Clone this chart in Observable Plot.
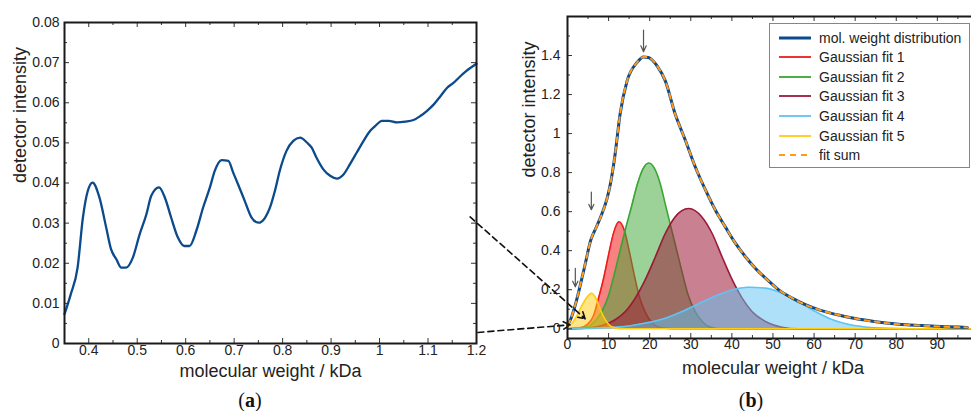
<!DOCTYPE html>
<html>
<head>
<meta charset="utf-8">
<script src="https://cdn.jsdelivr.net/npm/d3@7"></script>
<script src="https://cdn.jsdelivr.net/npm/@observablehq/plot@0.6"></script>
<style>
html,body{margin:0;padding:0;background:#fff;overflow:hidden;}
#wrap{position:relative;width:971px;height:411px;overflow:hidden;font-family:"Liberation Sans",Arial,Helvetica,sans-serif;color:#222;}
#pa,#pb{position:absolute;top:0;}
#pa{left:0;width:480px;}
#pb{left:460px;width:520px;}
.cap{position:absolute;top:389px;transform:translateX(-50%);font-family:"Liberation Serif","Times New Roman",serif;font-size:20px;line-height:22px;color:#111;}
#legend{position:absolute;left:769px;top:23px;width:201px;height:145px;box-sizing:border-box;border:1.5px solid #858585;background:#fff;}
.row{position:absolute;left:0;height:20px;display:flex;align-items:center;font-size:14px;white-space:nowrap;color:#222;}
.row svg{margin-left:9px;margin-right:8px;}
</style>
</head>
<body>
<div id="wrap">
  <div id="pa"></div>
  <div id="pb"></div>
  <div id="legend"></div>
  <div class="cap" style="left:250px">(<b>a</b>)</div>
  <div class="cap" style="left:751px">(<b>b</b>)</div>
</div>
<script>
// ---------- Panel (a): low molecular weight region ----------
const aMw = [0.350,0.363,0.377,0.388,0.398,0.408,0.422,0.436,0.446,0.457,0.467,0.477,0.491,0.505,0.519,0.529,0.545,0.557,0.570,0.584,0.597,0.608,0.622,0.636,0.650,0.660,0.674,0.688,0.698,0.708,0.722,0.736,0.750,0.764,0.774,0.784,0.794,0.808,0.822,0.836,0.850,0.860,0.870,0.884,0.898,0.912,0.926,0.939,0.953,0.967,0.978,0.991,1.005,1.019,1.036,1.053,1.070,1.084,1.098,1.112,1.126,1.140,1.153,1.164,1.178,1.200];
const aIntensity = [0.0073,0.0123,0.0189,0.0314,0.0380,0.0401,0.0364,0.0289,0.0235,0.0210,0.0189,0.0189,0.0214,0.0272,0.0322,0.0368,0.0389,0.0364,0.0314,0.0264,0.0243,0.0243,0.0281,0.0339,0.0389,0.0430,0.0457,0.0455,0.0426,0.0397,0.0355,0.0314,0.0301,0.0314,0.0339,0.0380,0.0430,0.0480,0.0505,0.0513,0.0501,0.0488,0.0463,0.0434,0.0418,0.0411,0.0422,0.0447,0.0476,0.0505,0.0526,0.0542,0.0555,0.0555,0.0551,0.0553,0.0557,0.0567,0.0580,0.0596,0.0617,0.0638,0.0650,0.0663,0.0678,0.0697];
const aXTicks = [0.4,0.5,0.6,0.7,0.8,0.9,1,1.1,1.2];
const aXMinor = [0.35,0.45,0.55,0.65,0.75,0.85,0.95,1.05,1.15];
const aYTicks = [0,0.01,0.02,0.03,0.04,0.05,0.06,0.07,0.08];
const aYMinor = [0.005,0.015,0.025,0.035,0.045,0.055,0.065,0.075];

// ---------- Panel (b): full distribution + Gaussian fits ----------
const bMw   = [0,0.8,2,3.3,4.4,5.6,7,8.4,9.6,10.6,11.6,12.8,14.5,16.9,18.5,19.7,21.8,23.8,26.2,28.7,31.1,33.6,36,38.4,40.9,43.3,45.7,48.2,51.4,54.7,57.9,61.2,64,66.4,70,74.6,78,82.7,86,90.8,97.3];
const bDist = [0.02,0.05,0.13,0.24,0.34,0.45,0.52,0.59,0.665,0.76,0.897,1.1,1.27,1.364,1.393,1.39,1.347,1.27,1.1,0.965,0.829,0.71,0.607,0.522,0.437,0.369,0.31,0.259,0.199,0.157,0.123,0.097,0.08,0.068,0.052,0.037,0.028,0.02,0.016,0.011,0.007];
const fitSum = bDist.slice();

const g1Mw = [0,2.7,4.7,6.3,7.6,8.8,10,11.2,12.5,13.9,15,16.2,17.4,18.9,20.6,23,26,100.5];
const g1   = [0,0.003,0.02,0.065,0.16,0.26,0.38,0.49,0.548,0.5,0.4,0.28,0.17,0.085,0.03,0.004,0,0];
const g2Mw = [0,5,6.7,8.4,10,11.4,12.8,14.1,15.5,17,18.4,19.8,21.2,22.6,24,25.3,26.6,28,29.4,31,32.7,34.5,37,100.5];
const g2   = [0,0.01,0.04,0.09,0.17,0.28,0.4,0.51,0.62,0.74,0.82,0.849,0.82,0.74,0.62,0.51,0.4,0.28,0.17,0.09,0.04,0.01,0,0];
const g3Mw = [0,4.3,8.4,11.6,14.1,16.5,18.9,21.4,23.8,26.2,29.5,32.7,35.2,37.6,40.1,42.5,44.9,48.2,52.2,56,100.5];
const g3   = [0,0.003,0.017,0.046,0.088,0.157,0.25,0.369,0.488,0.573,0.616,0.573,0.488,0.369,0.25,0.157,0.088,0.037,0.008,0,0];
const g4Mw = [0,7.6,11.6,15.7,19.7,23.8,27.9,31.9,36,40,44.1,48.2,52.2,56.3,60.3,64,68,72,78,84,100.5];
const g4   = [0,0.003,0.008,0.017,0.032,0.054,0.088,0.128,0.168,0.199,0.213,0.208,0.182,0.138,0.088,0.05,0.024,0.01,0.002,0,0];
const g5Mw = [0,1.1,2.3,3.5,4.7,5.8,6.9,8,9.2,10.4,12,14,100.5];
const g5   = [0.01,0.028,0.067,0.118,0.16,0.182,0.157,0.097,0.046,0.015,0.003,0,0];

const bXTicks = [0,10,20,30,40,50,60,70,80,90,100];
const bXLabels = [0,10,20,30,40,50,60,70,80,90];
const bXMinor = [5,15,25,35,45,55,65,75,85,95];
const bYTicks = [0,0.2,0.4,0.6,0.8,1,1.2,1.4];
const bYMinor = [0.1,0.3,0.5,0.7,0.9,1.1,1.3,1.5];

// peak markers (down arrows) and zoom connector lines, in data units of panel (b)
const peakX = [18.5,5.8,1.9];
const peakTop = [1.53,0.70,0.31];
const peakBottom = [1.42,0.61,0.215];
const connX1 = [-23.7,-21.8];
const connY1 = [0.573,-0.019];
const connX2 = [4.3,0.6];
const connY2 = [0.051,0.02];

const seriesNames = ["mol. weight distribution","Gaussian fit 1","Gaussian fit 2","Gaussian fit 3","Gaussian fit 4","Gaussian fit 5","fit sum"];
const seriesColors = ["#0b4a8c","#ee1c1c","#3aa532","#9c1a38","#5ec4f4","#ffcc10","#ff9a1a"];

// ---------- helpers ----------
const zip = (xs, ys) => xs.map((x, i) => ({x, y: ys[i]}));
const font = '"Liberation Sans", Arial, Helvetica, sans-serif';
function inwardTicks(xMaj, xMin, yMaj, yMin, fw, fh, L = 5, l = 3) {
  const o = {stroke: "#333", strokeWidth: 1};
  return [
    Plot.tickX(xMaj, {x: d => d, insetTop: fh - L, ...o}),
    Plot.tickX(xMaj, {x: d => d, insetBottom: fh - L, ...o}),
    Plot.tickX(xMin, {x: d => d, insetTop: fh - l, ...o}),
    Plot.tickX(xMin, {x: d => d, insetBottom: fh - l, ...o}),
    Plot.tickY(yMaj, {y: d => d, insetRight: fw - L, ...o}),
    Plot.tickY(yMaj, {y: d => d, insetLeft: fw - L, ...o}),
    Plot.tickY(yMin, {y: d => d, insetRight: fw - l, ...o}),
    Plot.tickY(yMin, {y: d => d, insetLeft: fw - l, ...o})
  ];
}

// ---------- Panel (a) ----------
{
  const W = 480, H = 385, ML = 64, MR = 4, MT = 22, MB = 42;
  const fw = W - ML - MR, fh = H - MT - MB;
  const chart = Plot.plot({
    width: W, height: H, marginLeft: ML, marginRight: MR, marginTop: MT, marginBottom: MB,
    x: {domain: [0.35, 1.2]},
    y: {domain: [0, 0.08]},
    style: {fontFamily: font, fontSize: "14px", background: "transparent", overflow: "visible", color: "#222"},
    marks: [
      Plot.line(zip(aMw, aIntensity), {x: "x", y: "y", stroke: "#0b4a8c", strokeWidth: 2.3, curve: "monotone-x"}),
      ...inwardTicks(aXTicks, aXMinor, aYTicks, aYMinor, fw, fh),
      Plot.frame({stroke: "#1a1a1a", strokeWidth: 2}),
      Plot.axisX(aXTicks, {tickSize: 0, tickPadding: 2, tickFormat: d => String(d), label: null, fontSize: 14}),
      Plot.axisY(aYTicks, {tickSize: 0, tickPadding: 5, tickFormat: d => String(d), label: null, fontSize: 14}),
      Plot.text(["molecular weight / kDa"], {text: d => d, frameAnchor: "bottom", lineAnchor: "middle", dy: 28, fontSize: 18}),
      Plot.text(["detector intensity"], {text: d => d, frameAnchor: "left", rotate: -90, dx: -44, fontSize: 18})
    ]
  });
  document.getElementById("pa").appendChild(chart);
}

// ---------- Panel (b) ----------
{
  const W = 520, H = 385, ML = 107, MR = 0, MT = 16, MB = 47;
  const fw = W - ML - MR, fh = H - MT - MB;
  const gauss = [[g1Mw, g1, 0.55], [g2Mw, g2, 0.5], [g3Mw, g3, 0.55], [g4Mw, g4, 0.5], [g5Mw, g5, 0.5]];
  const gMarks = [];
  gauss.forEach(([xs, ys, op], i) => {
    const c = seriesColors[i + 1];
    gMarks.push(Plot.areaY(zip(xs, ys), {x: "x", y: "y", fill: c, fillOpacity: op, curve: "monotone-x"}));
    gMarks.push(Plot.lineY(zip(xs, ys), {x: "x", y: "y", stroke: c, strokeWidth: 1.6, curve: "monotone-x"}));
  });
  const peaks = peakX.map((x, i) => ({x, y1: peakTop[i], y2: peakBottom[i]}));
  const conns = connX1.map((x1, i) => ({x1, y1: connY1[i], x2: connX2[i], y2: connY2[i]}));
  const chart = Plot.plot({
    width: W, height: H, marginLeft: ML, marginRight: MR, marginTop: MT, marginBottom: MB,
    x: {domain: [0, 100.5]},
    y: {domain: [-0.05, 1.6]},
    style: {fontFamily: font, fontSize: "14px", background: "transparent", overflow: "visible", color: "#222"},
    marks: [
      ...gMarks,
      Plot.line(zip(bMw, bDist), {x: "x", y: "y", stroke: seriesColors[0], strokeWidth: 3, curve: "monotone-x"}),
      Plot.line(zip(bMw, fitSum), {x: "x", y: "y", stroke: seriesColors[6], strokeWidth: 2, strokeDasharray: "5,5", curve: "monotone-x"}),
      Plot.arrow(peaks, {x1: "x", x2: "x", y1: "y1", y2: "y2", stroke: "#555", strokeWidth: 1.2, headLength: 8, headAngle: 50}),
      Plot.arrow(conns, {x1: "x1", y1: "y1", x2: "x2", y2: "y2", stroke: "#111", strokeWidth: 1.6, strokeDasharray: "6,4", headLength: 7, headAngle: 60}),
      ...inwardTicks(bXTicks, bXMinor, bYTicks, bYMinor, fw, fh),
      Plot.frame({stroke: "#1a1a1a", strokeWidth: 2}),
      Plot.axisX(bXLabels, {tickSize: 0, tickPadding: 1, tickFormat: d => String(d), label: null, fontSize: 14}),
      Plot.axisY(bYTicks, {tickSize: 0, tickPadding: 7, tickFormat: d => String(d), label: null, fontSize: 14}),
      Plot.text(["molecular weight / kDa"], {text: d => d, frameAnchor: "bottom", lineAnchor: "middle", dy: 30, dx: -1, fontSize: 18}),
      Plot.text(["detector intensity"], {text: d => d, frameAnchor: "left", rotate: -90, dx: -38, fontSize: 18})
    ]
  });
  document.getElementById("pb").appendChild(chart);
}

// ---------- Legend ----------
{
  const legend = d3.select("#legend");
  seriesNames.forEach((name, i) => {
    const row = legend.append("div").attr("class", "row").style("top", (3.5 + i * 19.6) + "px");
    const svg = row.append("svg").attr("width", 32).attr("height", 10);
    svg.append("line").attr("x1", 0).attr("x2", 32).attr("y1", 5).attr("y2", 5)
      .attr("stroke", seriesColors[i])
      .attr("stroke-width", i === 0 ? 3 : (i === 6 ? 2 : 1.8))
      .attr("stroke-dasharray", i === 6 ? "6,5" : null);
    row.append("span").text(name);
  });
}
</script>
</body>
</html>
